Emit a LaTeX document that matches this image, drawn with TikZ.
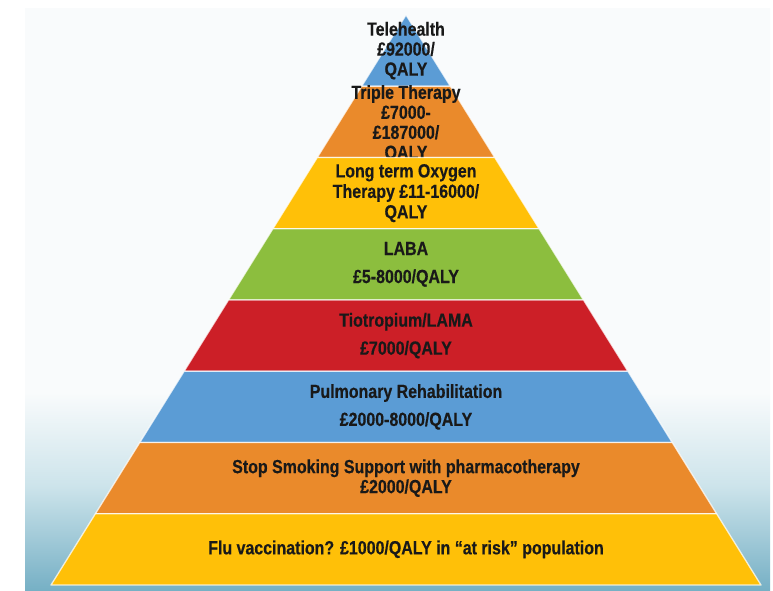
\documentclass[tikz,border=0pt]{standalone}
\usepackage{fontspec}
\setmainfont{Liberation Sans}[FakeStretch=0.84,BoldFeatures={FakeBold=0.4}]
\usepackage{xcolor}
\usepackage{tikz}
\definecolor{pblue}{RGB}{91,156,213}
\definecolor{porange}{RGB}{234,138,43}
\definecolor{pyellow}{RGB}{255,192,8}
\definecolor{pgreen}{RGB}{140,190,62}
\definecolor{pred}{RGB}{204,31,39}
\definecolor{txtdark}{RGB}{25,25,25}
\definecolor{bgtop}{RGB}{249,251,252}
\definecolor{bgmid}{RGB}{205,228,235}
\definecolor{bgbot}{RGB}{118,176,197}
% visible part of a tikz shading is 25bp..75bp
\pgfdeclareverticalshading{panelshade}{100bp}{color(0bp)=(bgbot); color(25bp)=(bgbot); color(34bp)=(bgmid); color(42bp)=(bgtop); color(100bp)=(bgtop)}

\begin{document}
\begin{tikzpicture}[x=1pt,y=-1pt,
    band/.style={draw=white,draw opacity=0.75,line width=1.3pt,line join=round},
    lbl/.style={align=center,text=txtdark,inner sep=0pt,font=\bfseries}]
      % page and shaded panel (image coordinates, y downwards)
      \useasboundingbox (0,0) rectangle (773,590);
      \fill[white] (0,0) rectangle (773,590);
      \fill[shading=panelshade] (25,8) rectangle (770,590);
      % Pyramid: apex (406,15), base y=585, 8 bands of 71.25
      % half width = 0.6228*(y-15)
      \foreach \i/\col/\ls/\dy/\txt in {
          1/pblue/20/0/{Telehealth\\£92000/\\QALY},
          2/porange/20/2/{Triple Therapy\\£7000-\\£187000/\\QALY},
          3/pyellow/20.5/0/{Long term Oxygen\\Therapy £11-16000/\\QALY},
          4/pgreen/28/0/{LABA\\£5-8000/QALY},
          5/pred/28/0/{Tiotropium/LAMA\\£7000/QALY},
          6/pblue/28/0/{Pulmonary Rehabilitation\\£2000-8000/QALY},
          7/porange/20/0/{Stop Smoking Support with pharmacotherapy\\£2000/QALY},
          8/pyellow/20/0/{Flu vaccination? £1000/QALY in “at risk” population}} {
        \pgfmathsetmacro\yt{15+71.25*(\i-1)}
        \pgfmathsetmacro\yb{15+71.25*\i}
        \pgfmathsetmacro\wt{0.6228*(\yt-15)}
        \pgfmathsetmacro\wb{0.6228*(\yb-15)}
        \pgfmathsetmacro\ym{(\yt+\yb)/2+\dy}
        \filldraw[band,fill=\col] ({406-\wt},\yt) -- ({406+\wt},\yt)
          -- ({406+\wb},\yb) -- ({406-\wb},\yb) -- cycle;
        \node[lbl,font=\bfseries\fontsize{19}{\ls}\selectfont] (tier\i) at (406,\ym) {\txt};
      }
    \end{tikzpicture}
\end{document}
